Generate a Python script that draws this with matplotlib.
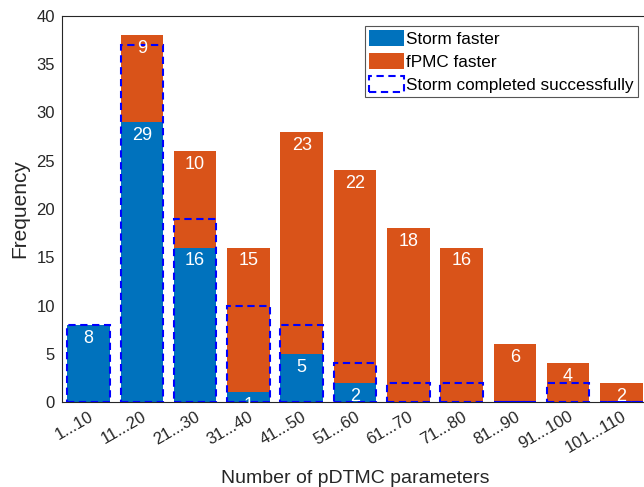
import matplotlib
matplotlib.use("Agg")
import matplotlib.pyplot as plt
from matplotlib.patches import Rectangle, Patch

plt.rcParams["font.family"] = ["Liberation Sans", "DejaVu Sans"]

# ---- data ----
categories = ["1...10", "11...20", "21...30", "31...40", "41...50", "51...60",
              "61...70", "71...80", "81...90", "91...100", "101...110"]
storm_faster = [8, 29, 16, 1, 5, 2, 0, 0, 0, 0, 0]
fpmc_faster = [0, 9, 10, 15, 23, 22, 18, 16, 6, 4, 2]
storm_completed = [8, 37, 19, 10, 8, 4, 2, 2, 0, 2, 0]

BLUE = "#0072BD"
ORANGE = "#D95319"
DARK = "#262626"
W = 0.8

fig = plt.figure(figsize=(6.44, 4.87), dpi=100)
ax = fig.add_axes([62 / 644, 1 - 402 / 487, 586 / 644, 386 / 487])

x = list(range(1, len(categories) + 1))
ax.bar(x, storm_faster, width=W, color=BLUE, edgecolor="none", zorder=2)
ax.bar(x, fpmc_faster, width=W, bottom=storm_faster, color=ORANGE,
       edgecolor="none", zorder=2)

# dashed boxes for successful Storm runs
for xi, h in zip(x, storm_completed):
    ax.add_patch(Rectangle((xi - W / 2, 0), W, h, fill=False, edgecolor="#0000FF",
                           lw=1.5, linestyle=(0, (3.5, 2.2)), zorder=4))

# value labels at the top of each segment
for xi, s, f in zip(x, storm_faster, fpmc_faster):
    if s > 0:
        ax.annotate(str(s), (xi, s), xytext=(0, -3.5), textcoords="offset points",
                    ha="center", va="top", color="white", fontsize=13, zorder=5)
    if f > 0:
        ax.annotate(str(f), (xi, s + f), xytext=(0, -3.5), textcoords="offset points",
                    ha="center", va="top", color="white", fontsize=13, zorder=5)

ax.set_xlim(0.5, 11.5)
ax.set_ylim(0, 40)
ax.set_yticks(range(0, 41, 5))
ax.set_xticks(x)
ax.set_xticklabels(categories, rotation=30, ha="right", rotation_mode="anchor")
ax.tick_params(length=0, labelsize=12, colors=DARK, pad=5)
for side in ["left", "bottom", "top", "right"]:
    ax.spines[side].set_color(DARK)
    ax.spines[side].set_linewidth(0.8)

ax.set_xlabel("Number of pDTMC parameters", fontsize=14, color=DARK, labelpad=10)
ax.set_ylabel("Frequency", fontsize=15, color=DARK, labelpad=5)

handles = [
    Patch(facecolor=BLUE, edgecolor="none", label="Storm faster"),
    Patch(facecolor=ORANGE, edgecolor="none", label="fPMC faster"),
    Patch(facecolor="none", edgecolor="#0000FF", lw=1.5, linestyle=(0, (3.5, 2.2)),
          label="Storm completed successfully"),
]
leg = ax.legend(handles=handles, loc="upper right",
                bbox_to_anchor=(638 / 644, 1 - 26 / 487), bbox_transform=fig.transFigure,
                borderaxespad=0, fontsize=12.3, fancybox=False, framealpha=1,
                edgecolor="#555555", handlelength=2.0, handleheight=1.0,
                handletextpad=0.15, labelspacing=0.38, borderpad=0.25)
leg.get_frame().set_linewidth(0.8)

fig.savefig("out.png", dpi=100)
